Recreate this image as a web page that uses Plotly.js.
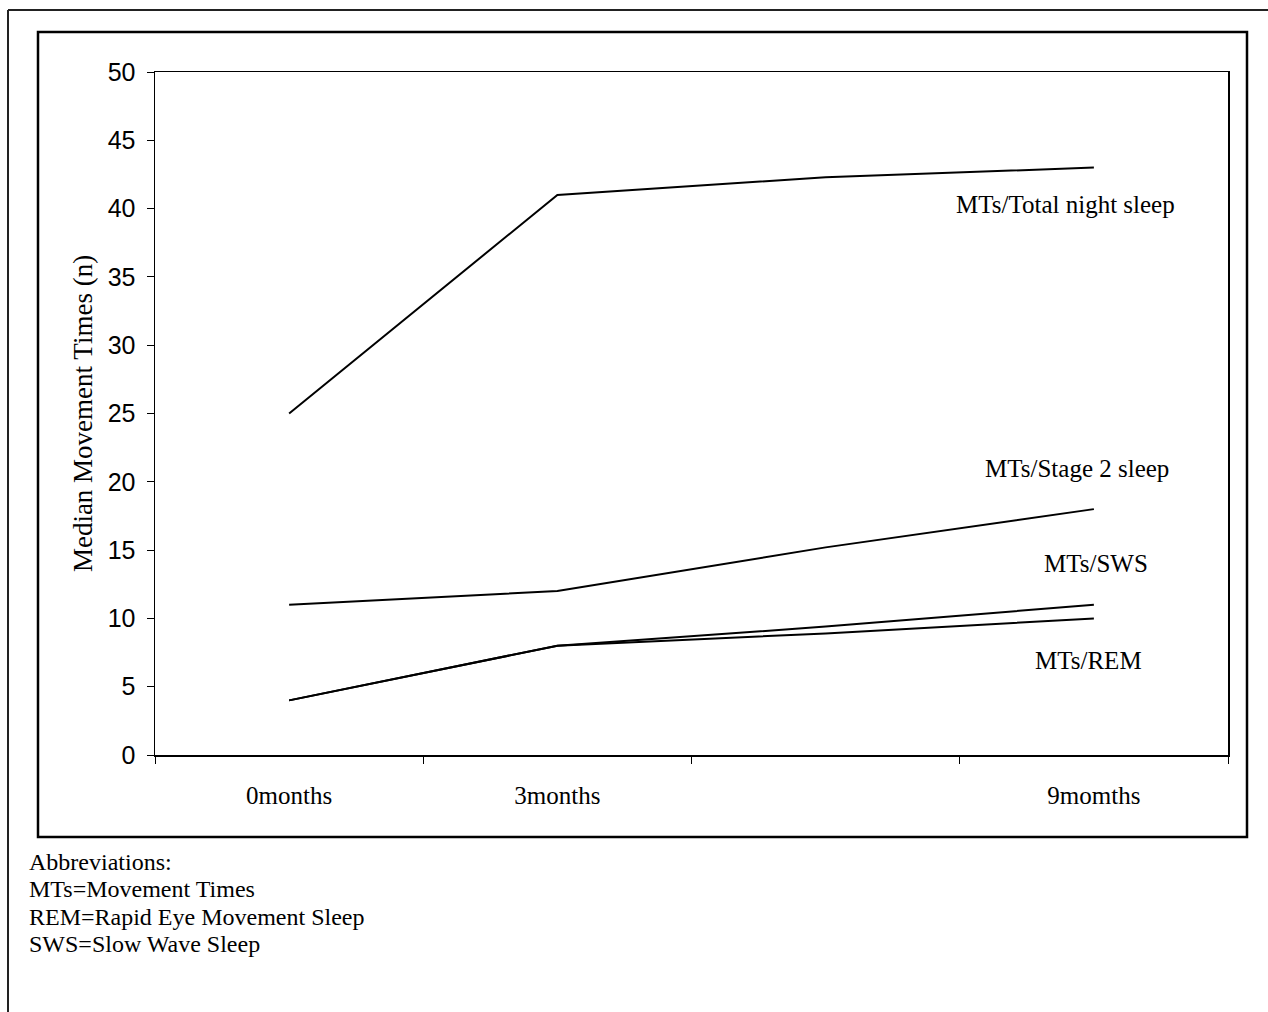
<!DOCTYPE html>
<html>
<head>
<meta charset="utf-8">
<script src="https://cdn.plot.ly/plotly-3.0.1.min.js"></script>
<style>html,body{margin:0;padding:0;background:#fff;}#chart{width:1268px;height:1012px;}</style>
</head>
<body>
<div id="chart"></div>
<script>
// Data
var categories = ["0months", "3months", " ", "9momths"];
var totalNightSleep = [25, 41, 42.3, 43];
var stage2Sleep = [11, 12, 15.2, 18];
var swsSleep = [4, 8, 9.4, 11];
var remSleep = [4, 8, 8.9, 10];
var seriesLabels = ["MTs/Total night sleep", "MTs/Stage 2 sleep", "MTs/SWS", "MTs/REM"];
var yTicks = [0, 5, 10, 15, 20, 25, 30, 35, 40, 45, 50];
var abbreviations = ["Abbreviations:", "MTs=Movement Times", "REM=Rapid Eye Movement Sleep", "SWS=Slow Wave Sleep"];

var W = 1268, H = 1012;
var mL = 155, mR = 40, mT = 72, mB = 257;
var pw = W - mL - mR, ph = H - mT - mB;
function px(x) { return (x - mL) / pw; }
function py(y) { return (H - mB - y) / ph; }

var serif = "Liberation Serif, Times New Roman, serif";
var sans = "Liberation Sans, Arial, sans-serif";

var allSeries = [totalNightSleep, stage2Sleep, swsSleep, remSleep];
var traces = allSeries.map(function (vals, i) {
  return {
    x: categories, y: vals, type: "scatter", mode: "lines",
    line: {color: "#000", width: 2}, name: seriesLabels[i], hoverinfo: "skip"
  };
});

var labelPos = [
  {x: 1065, y: 204}, {x: 1077, y: 468}, {x: 1096, y: 563}, {x: 1088, y: 660}
];
var annotations = seriesLabels.map(function (t, i) {
  return {
    text: t, xref: "paper", yref: "paper", x: px(labelPos[i].x), y: py(labelPos[i].y),
    xanchor: "center", yanchor: "middle", showarrow: false,
    font: {family: serif, size: 25, color: "#000"}
  };
});
var abbrY = [862, 889, 917, 944];
abbreviations.forEach(function (t, i) {
  annotations.push({
    text: t, xref: "paper", yref: "paper", x: px(27), y: py(abbrY[i]),
    xanchor: "left", yanchor: "middle", showarrow: false,
    font: {family: serif, size: 24, color: "#000"}
  });
});

var shapes = [
  // outer frame (top and left edges)
  {type: "line", xref: "paper", yref: "paper", x0: px(8), x1: px(1268), y0: py(10), y1: py(10), line: {color: "#222", width: 2}},
  {type: "line", xref: "paper", yref: "paper", x0: px(8), x1: px(8), y0: py(10), y1: py(1012), line: {color: "#222", width: 2}},
  // chart area box
  {type: "rect", xref: "paper", yref: "paper", x0: px(38), x1: px(1247), y0: py(32), y1: py(837), line: {color: "#000", width: 2.5}, fillcolor: "rgba(0,0,0,0)"}
];

var layout = {
  width: W, height: H,
  margin: {l: mL, r: mR, t: mT, b: mB},
  paper_bgcolor: "#fff", plot_bgcolor: "#fff",
  showlegend: false,
  xaxis: {
    type: "category", tickson: "boundaries",
    showline: true, mirror: true, linecolor: "#000", linewidth: 1.5,
    ticks: "outside", ticklen: 7, tickcolor: "#000", tickwidth: 1,
    showgrid: false, zeroline: false,
    ticklabelstandoff: 17,
    tickfont: {family: serif, size: 25, color: "#000"},
    range: [-0.5, 3.5], fixedrange: true
  },
  yaxis: {
    range: [0, 50], tickvals: yTicks, ticktext: yTicks.map(String),
    showline: true, mirror: true, linecolor: "#000", linewidth: 1.5,
    ticks: "outside", ticklen: 7, tickcolor: "#000", tickwidth: 1,
    showgrid: false, zeroline: false,
    ticklabelstandoff: 6,
    tickfont: {family: sans, size: 25, color: "#000"},
    title: {text: "Median Movement Times (n)", font: {family: serif, size: 27, color: "#000"}, standoff: 7},
    fixedrange: true
  },
  annotations: annotations,
  shapes: shapes
};

Plotly.newPlot("chart", traces, layout, {staticPlot: true, displayModeBar: false});
</script>
</body>
</html>
